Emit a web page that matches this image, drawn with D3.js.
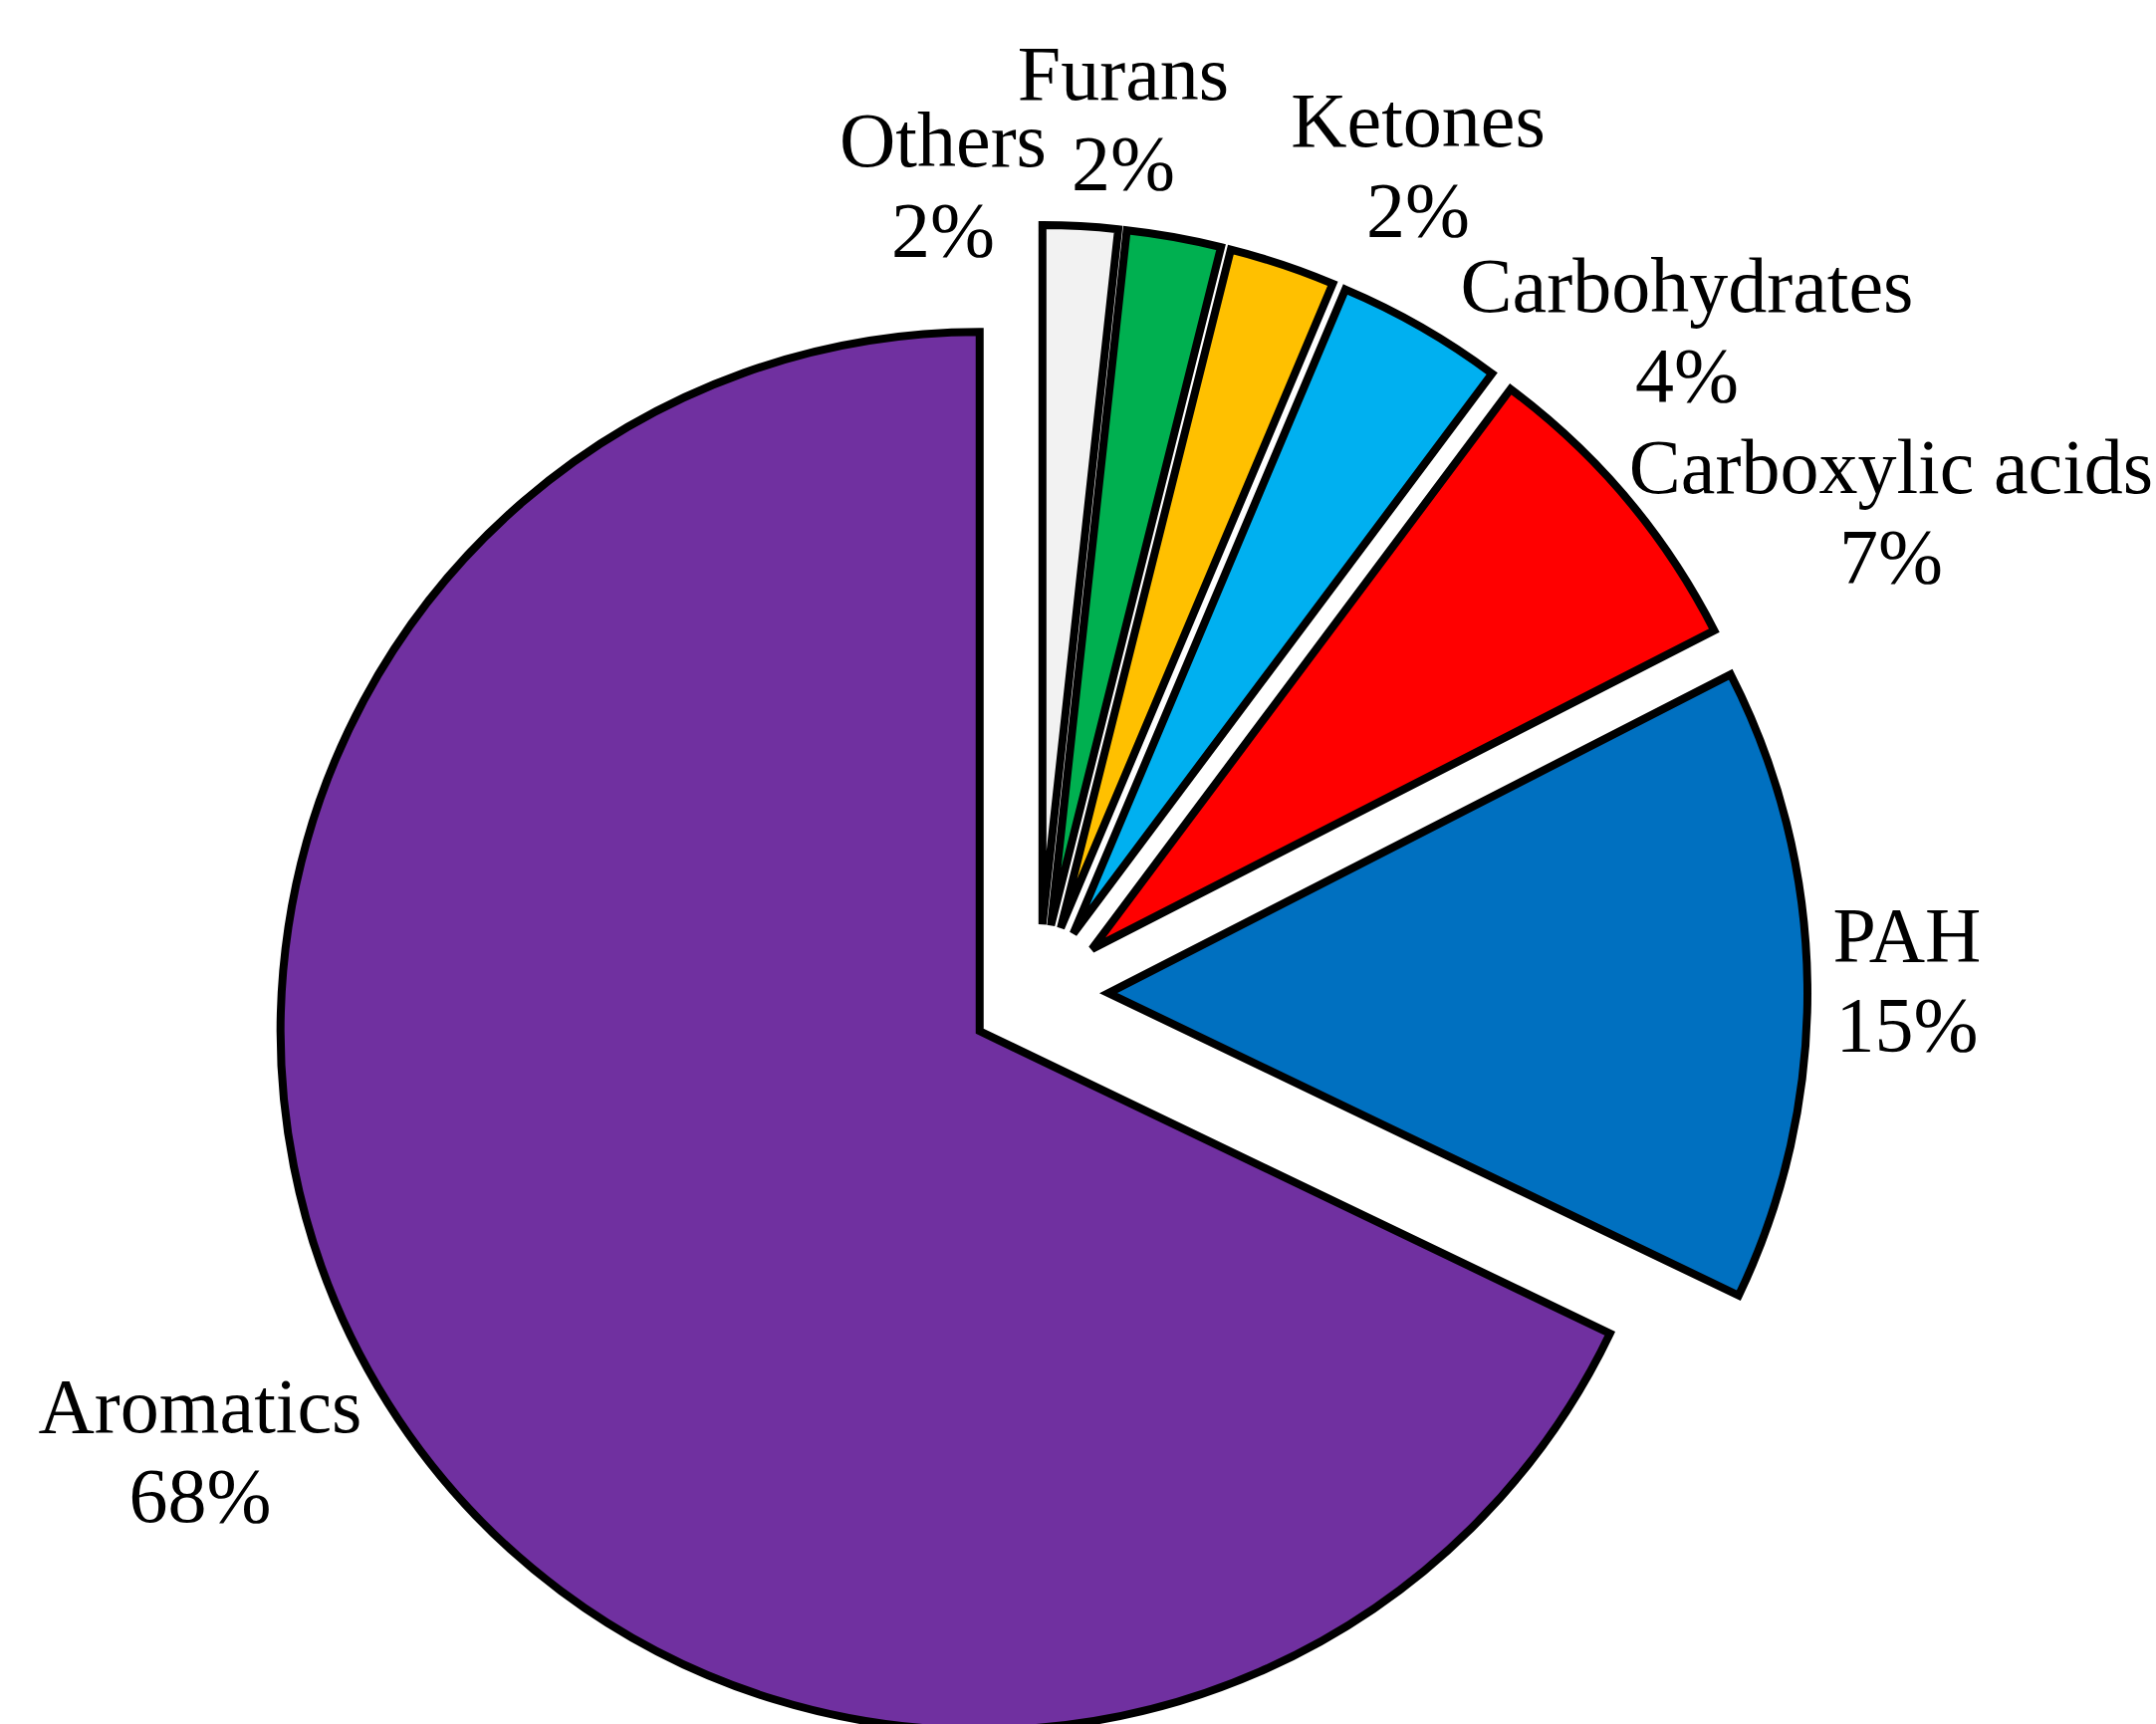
<!DOCTYPE html>
<html>
<head>
<meta charset="utf-8">
<script src="https://cdn.jsdelivr.net/npm/d3@7"></script>
<style>
  html, body { margin: 0; padding: 0; background: #ffffff; }
  svg { display: block; }
</style>
</head>
<body>
<svg id="chart" width="2165" height="1731"></svg>
<script>
// ---- data ----
const categories = ["Others", "Furans", "Ketones", "Carbohydrates", "Carboxylic acids", "PAH", "Aromatics"];
const values = [1.73, 2.18, 2.45, 3.86, 7.25, 14.65, 67.88];
const colors = ["#F2F2F2", "#00B050", "#FFC000", "#00B0F0", "#FF0000", "#0070C0", "#7030A0"];

// ---- layout (label anchor: centre x, first baseline y) ----
const labelAnchors = [
  [947, 167], [1128, 100], [1424, 147], [1694, 313], [1899, 495], [1915, 965], [201, 1438]
];

const W = 2165, H = 1731;
const cx = 1043, cy = 998, R = 702, explode = 70;
const fontSize = 78, lineGap = 90;

const svg = d3.select("#chart");
svg.append("rect").attr("width", W).attr("height", H).attr("fill", "#ffffff");

const data = categories.map((c, i) => ({ name: c, value: values[i], color: colors[i], idx: i }));
const total = d3.sum(values);

const pie = d3.pie().value(d => d.value).sort(null).startAngle(0).endAngle(2 * Math.PI);
const arc = d3.arc().innerRadius(0).outerRadius(R);

const g = svg.append("g").attr("transform", `translate(${cx},${cy})`);

g.selectAll("path.slice")
  .data(pie(data))
  .join("path")
  .attr("class", "slice")
  .attr("d", arc)
  .attr("fill", d => d.data.color)
  .attr("stroke", "#000000")
  .attr("stroke-width", 8)
  .attr("stroke-linejoin", "miter")
  .attr("transform", d => {
    const mid = (d.startAngle + d.endAngle) / 2;
    return `translate(${explode * Math.sin(mid)},${-explode * Math.cos(mid)})`;
  });

const labels = svg.append("g")
  .attr("font-family", "'Liberation Serif', 'Times New Roman', Times, serif")
  .attr("font-size", fontSize)
  .attr("fill", "#000000")
  .attr("text-anchor", "middle");

data.forEach((d, i) => {
  const [lx, ly] = labelAnchors[i];
  const t = labels.append("text").attr("x", lx).attr("y", ly);
  t.append("tspan").attr("x", lx).attr("y", ly).text(d.name);
  t.append("tspan").attr("x", lx).attr("y", ly + lineGap).text(Math.round(d.value / total * 100) + "%");
});
</script>
</body>
</html>
